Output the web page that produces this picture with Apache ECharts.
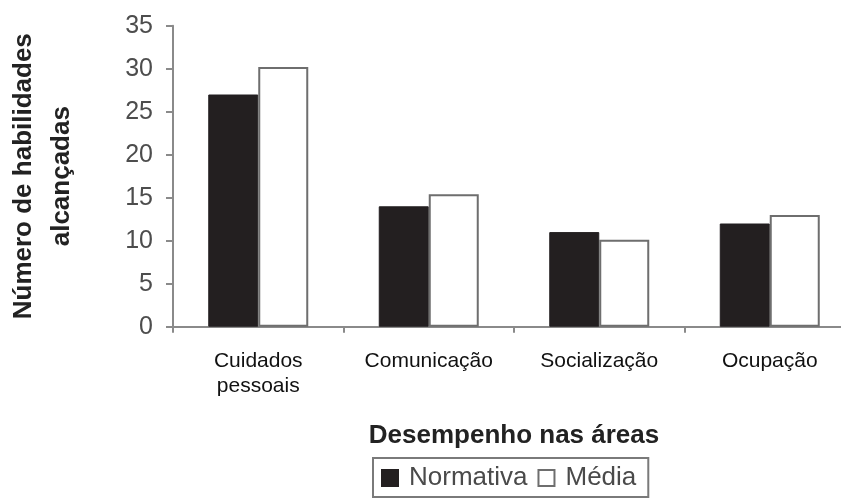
<!DOCTYPE html>
<html>
<head>
<meta charset="utf-8">
<script src="https://cdn.jsdelivr.net/npm/echarts@6/dist/echarts.min.js"></script>
<style>
  html, body { margin: 0; padding: 0; background: #fff; }
  #chart { width: 841px; height: 501px; }
</style>
</head>
<body>
<div id="chart"></div>
<script>
// Áreas avaliadas e número de habilidades alcançadas
const categories = ['Cuidados\npessoais', 'Comunicação', 'Socialização', 'Ocupação'];
const normativa = [27, 14, 11, 12];
const media = [30.2, 15.4, 10.1, 13];
const yTicks = { min: 0, max: 35, interval: 5 };

const FONT = '"Liberation Sans", Arial, sans-serif';
const axisGray = '#8a8a8a';

const chart = echarts.init(document.getElementById('chart'), null, { renderer: 'canvas' });

chart.setOption({
  backgroundColor: '#ffffff',
  animation: false,
  textStyle: { fontFamily: FONT },
  grid: {
    left: 173, top: 25.7, height: 301, width: 682,
    containLabel: false, outerBoundsMode: 'none'
  },
  legend: {
    data: ['Normativa', 'Média'],
    left: 373,
    top: 458,
    orient: 'horizontal',
    icon: 'rect',
    borderColor: '#7a7a7a',
    borderWidth: 2,
    padding: [7, 12, 6, 8],
    itemWidth: 16,
    itemHeight: 16,
    itemGap: 10,
    textStyle: { fontFamily: FONT, fontSize: 26, color: '#4a4a4a', padding: [0, 0, 0, 6] }
  },
  xAxis: {
    type: 'category',
    data: categories,
    name: 'Desempenho nas áreas',
    nameLocation: 'middle',
    nameGap: 96,
    nameTextStyle: { fontFamily: FONT, fontSize: 26, fontWeight: 'bold', color: '#222' },
    axisLine: { show: true, lineStyle: { color: axisGray, width: 2 } },
    axisTick: { show: true, length: 6, lineStyle: { color: axisGray, width: 2 } },
    axisLabel: {
      fontFamily: FONT, fontSize: 21, color: '#111', margin: 22,
      lineHeight: 25, interval: 0
    }
  },
  yAxis: {
    type: 'value',
    min: yTicks.min,
    max: yTicks.max,
    interval: yTicks.interval,
    name: 'Número de habilidades\nalcançadas',
    nameLocation: 'middle',
    nameGap: 92,
    nameRotate: 90,
    nameTextStyle: {
      fontFamily: FONT, fontSize: 26, fontWeight: 'bold', color: '#222',
      lineHeight: 38, align: 'center'
    },
    axisLine: { show: true, lineStyle: { color: axisGray, width: 2 } },
    axisTick: { show: true, length: 7, lineStyle: { color: axisGray, width: 2 } },
    splitLine: { show: false },
    axisLabel: { fontFamily: FONT, fontSize: 25, color: '#4d4d4d', margin: 20 }
  },
  series: [
    {
      name: 'Normativa',
      type: 'bar',
      data: normativa,
      barWidth: 50,
      barGap: '0%',
      itemStyle: { color: '#231f20', borderColor: '#231f20', borderWidth: 1 }
    },
    {
      name: 'Média',
      type: 'bar',
      data: media,
      barWidth: 50,
      itemStyle: { color: '#ffffff', borderColor: '#6e6e6e', borderWidth: 2 }
    }
  ]
});
</script>
</body>
</html>
